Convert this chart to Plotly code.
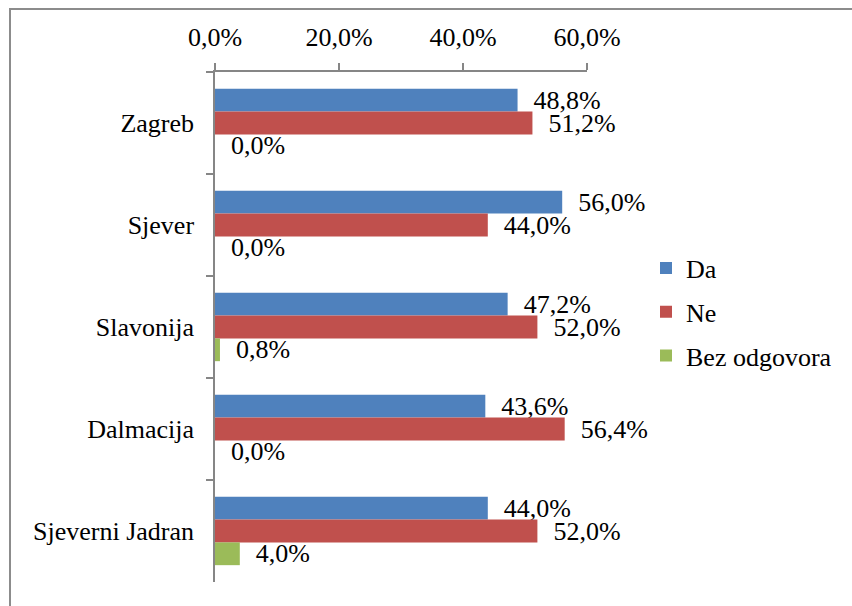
import plotly.graph_objects as go

regions = ["Zagreb", "Sjever", "Slavonija", "Dalmacija", "Sjeverni Jadran"]
da = [48.8, 56.0, 47.2, 43.6, 44.0]
ne = [51.2, 44.0, 52.0, 56.4, 52.0]
bez_odgovora = [0.0, 0.0, 0.8, 0.0, 4.0]
x_ticks = [0, 20, 40, 60]

series = [
    ("Da", da, "#4F81BD"),
    ("Ne", ne, "#C0504D"),
    ("Bez odgovora", bez_odgovora, "#9BBB59"),
]

W, H = 852, 606
L, R, T, B = 215, 265, 72, 24
FONT = "Liberation Serif, Times New Roman, serif"
FS = 26

fig = go.Figure()
for name, vals, color in series:
    fig.add_trace(go.Bar(
        y=regions, x=vals, name=name, orientation="h", legendgroup=name,
        marker=dict(color=color, line=dict(width=0)),
        texttemplate="\u00a0\u00a0%{x:.1f}%",
        textposition="outside",
        constraintext="none",
        textfont=dict(family=FONT, size=FS, color="black"),
        cliponaxis=False,
    ))

# chart frame
pw, ph = W - L - R, H - T - B
fig.add_shape(type="rect", xref="paper", yref="paper",
              x0=(10 - L) / pw, x1=(W + 20 - L) / pw,
              y0=(H - B - (H + 20)) / ph, y1=(H - B - 9) / ph,
              line=dict(color="#8C8C8C", width=2), fillcolor="rgba(0,0,0,0)",
              layer="below")

fig.update_layout(
    width=W, height=H,
    margin=dict(l=L, r=R, t=T, b=B),
    paper_bgcolor="white", plot_bgcolor="white",
    separators=",.",
    barmode="group", bargap=0.33, bargroupgap=0,
    font=dict(family=FONT, size=FS, color="black"),
    showlegend=True,
    legend=dict(x=(646 - L) / pw, y=(H - B - 312) / ph, xanchor="left", yanchor="middle",
                font=dict(family=FONT, size=FS), itemwidth=30,
                traceorder="grouped", tracegroupgap=7,
                bgcolor="rgba(0,0,0,0)"),
)
fig.update_xaxes(
    side="top", range=[0, 60], tickmode="array", tickvals=x_ticks,
    ticktext=[f"{v:.1f}%".replace(".", ",") for v in x_ticks],
    showline=True, linecolor="#868686", linewidth=1.5,
    ticks="outside", ticklen=7, tickcolor="#868686", tickwidth=1.5,
    showgrid=False, zeroline=False,
    tickfont=dict(family=FONT, size=FS), ticklabelstandoff=7,
)
fig.update_yaxes(
    autorange="reversed", type="category",
    showline=True, linecolor="#868686", linewidth=1.5,
    ticks="outside", ticklen=7, tickcolor="#868686", tickwidth=1.5,
    tickson="boundaries", showgrid=False, zeroline=False,
    tickfont=dict(family=FONT, size=FS), ticklabelstandoff=14,
)

fig.write_html("out.html")
